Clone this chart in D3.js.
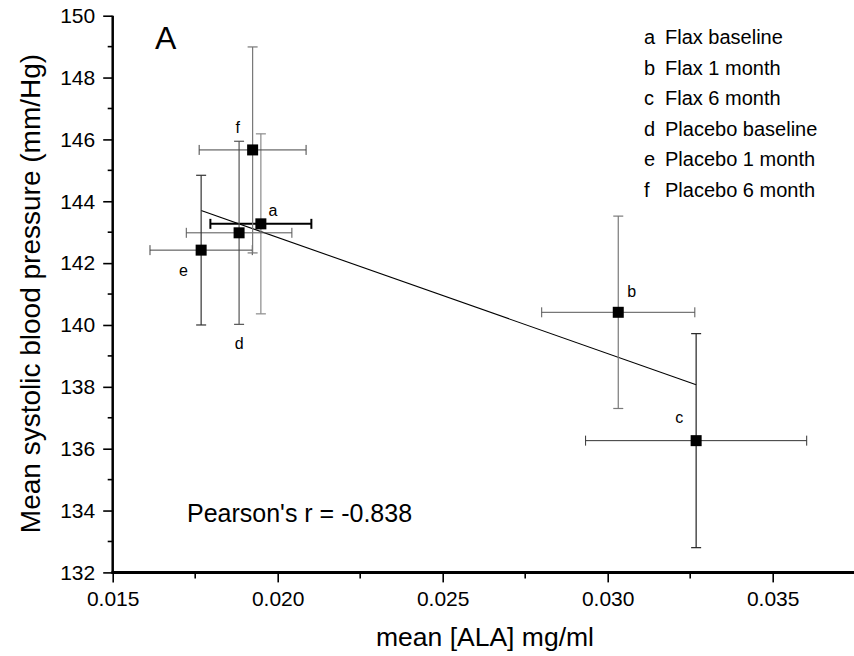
<!DOCTYPE html>
<html><head><meta charset="utf-8">
<script src="https://cdn.jsdelivr.net/npm/d3@7"></script>
<style>body{margin:0;background:#fff}svg{display:block}text{font-family:"Liberation Sans",Arial,sans-serif;fill:#000}</style>
</head><body><svg id="c" width="854" height="656"></svg>
<script>
// ---- data ----
const labels = ["a","b","c","d","e","f"];
const names = ["Flax baseline","Flax 1 month","Flax 6 month","Placebo baseline","Placebo 1 month","Placebo 6 month"];
const xVals = [0.01949, 0.03032, 0.03268, 0.01883, 0.01768, 0.01924];
const yVals = [143.27, 140.41, 136.26, 142.98, 142.42, 145.66];
const xErr  = [0.00153, 0.00232, 0.00335, 0.00160, 0.00155, 0.00162];
const yErr  = [2.91, 3.11, 3.46, 2.96, 2.42, 3.33];
const fitX = [0.01768, 0.03268];
const fitY = [143.70, 138.07];
const xMajor = [0.015, 0.020, 0.025, 0.030, 0.035];
const xMinor = [0.0175, 0.0225, 0.0275, 0.0325];
const yMajor = [132,134,136,138,140,142,144,146,148,150];
const yMinor = [133,135,137,139,141,143,145,147,149];
const pearsonText = "Pearson's r = -0.838";

// ---- styles (not data) ----
const vColor = ["#8a8a8a","#7a7a7a","#222","#555","#333","#777"];
const hColor = ["#000","#555","#333","#555","#444","#444"];
const hWidth = [2,1,1,1,1,1];
const lblDx = [12, 13.4, -17, 0, -17.7, -15];     // label offset from point (px)
const lblDy = [-8, -14.8, -17.7, 116.3, 25.7, -16.5]; // baseline offset from point (px)

const svg = d3.select("#c");
const x = d3.scaleLinear().domain([0.015, 0.0375]).range([112.7, 855.2]);
const y = d3.scaleLinear().domain([132, 150]).range([572.4, 15.7]);
const FONT = "'Liberation Sans',Arial,sans-serif";

// axes
const yAxis = svg.append("g").attr("transform","translate(112.7,0)")
  .call(d3.axisLeft(y).tickValues(yMajor).tickSize(9.5).tickPadding(8).tickFormat(d3.format("d")));
yAxis.select(".domain").remove();
yAxis.append("g").selectAll("line").data(yMinor).join("line")
  .attr("x1",0).attr("x2",-5).attr("y1",d=>y(d)).attr("y2",d=>y(d)).attr("stroke","#000").attr("stroke-width",1.6);
yAxis.selectAll(".tick line").attr("stroke-width",1.6);
yAxis.selectAll(".tick text").attr("font-size",21).style("font-family",FONT);
svg.append("line").attr("x1",112.7).attr("x2",112.7).attr("y1",y(150)).attr("y2",y(132)+1).attr("stroke","#000").attr("stroke-width",2.5);

const xAxis = svg.append("g").attr("transform","translate(0,572.4)")
  .call(d3.axisBottom(x).tickValues(xMajor).tickSize(10).tickPadding(9).tickFormat(d3.format(".3f")));
xAxis.select(".domain").remove();
xAxis.append("g").selectAll("line").data(xMinor).join("line")
  .attr("x1",d=>x(d)).attr("x2",d=>x(d)).attr("y1",0).attr("y2",6).attr("stroke","#000").attr("stroke-width",1.6);
xAxis.selectAll(".tick line").attr("stroke-width",1.6);
xAxis.selectAll(".tick text").attr("font-size",21).style("font-family",FONT);
svg.append("line").attr("x1",111.5).attr("x2",854).attr("y1",572.4).attr("y2",572.4).attr("stroke","#000").attr("stroke-width",3);

// axis titles
svg.append("text").attr("transform","translate(40,293.5) rotate(-90)").attr("text-anchor","middle")
  .attr("font-size",28).text("Mean systolic blood pressure (mm/Hg)");
svg.append("text").attr("x",485).attr("y",646).attr("text-anchor","middle").attr("font-size",26.5).text("mean [ALA] mg/ml");

// panel label
svg.append("text").attr("x",155).attr("y",49).attr("font-size",32).text("A");

// fit line
svg.append("line").attr("x1",x(fitX[0])).attr("y1",y(fitY[0])).attr("x2",x(fitX[1])).attr("y2",y(fitY[1]))
  .attr("stroke","#000").attr("stroke-width",1.1);

// error bars
const idx = d3.range(labels.length);
const g = svg.append("g");
idx.forEach(i=>{
  const cx = x(xVals[i]), cy = y(yVals[i]);
  const y1 = y(yVals[i]+yErr[i]), y2 = y(yVals[i]-yErr[i]);
  const x1 = x(xVals[i]-xErr[i]), x2 = x(xVals[i]+xErr[i]);
  g.append("line").attr("x1",cx).attr("x2",cx).attr("y1",y1).attr("y2",y2).attr("stroke",vColor[i]).attr("stroke-width",1.2);
  [y1,y2].forEach(yy=>g.append("line").attr("x1",cx-5).attr("x2",cx+5).attr("y1",yy).attr("y2",yy).attr("stroke",vColor[i]).attr("stroke-width",1.2));
  g.append("line").attr("x1",x1).attr("x2",x2).attr("y1",cy).attr("y2",cy).attr("stroke",hColor[i]).attr("stroke-width",hWidth[i]);
  [x1,x2].forEach(xx=>g.append("line").attr("x1",xx).attr("x2",xx).attr("y1",cy-5).attr("y2",cy+5).attr("stroke",hColor[i]).attr("stroke-width",hWidth[i]));
});
// markers
svg.append("g").selectAll("rect").data(idx).join("rect")
  .attr("x",i=>x(xVals[i])-5.5).attr("y",i=>y(yVals[i])-5.5).attr("width",11).attr("height",11).attr("fill","#000");
// point labels
svg.append("g").selectAll("text").data(idx).join("text")
  .attr("x",i=>x(xVals[i])+lblDx[i]).attr("y",i=>y(yVals[i])+lblDy[i]).attr("text-anchor","middle")
  .attr("font-size",16).text(i=>labels[i]);

// legend
const leg = svg.append("g");
idx.forEach(i=>{
  const yy = 44 + i*30.6;
  leg.append("text").attr("x",644).attr("y",yy).attr("font-size",20).text(labels[i]);
  leg.append("text").attr("x",665).attr("y",yy).attr("font-size",20).text(names[i]);
});

// pearson
svg.append("text").attr("x",187).attr("y",522).attr("font-size",25).text(pearsonText);
</script></body></html>
